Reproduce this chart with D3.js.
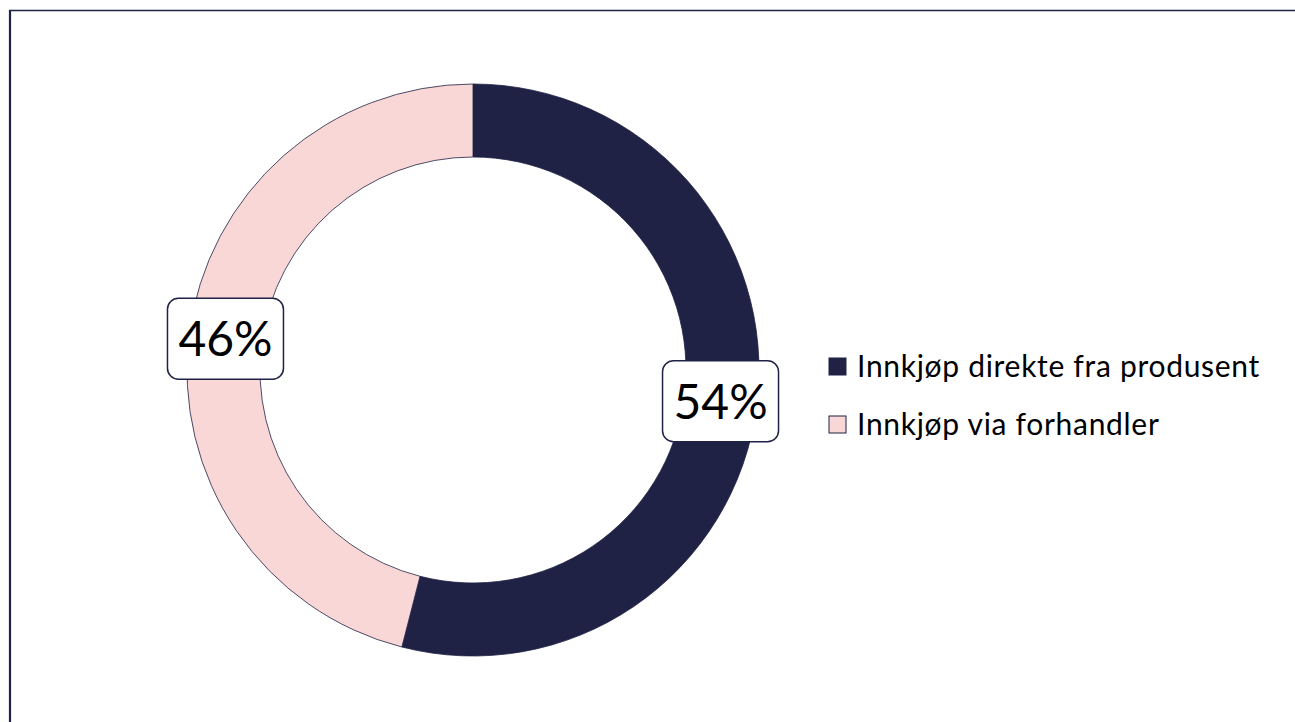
<html>
  <head>
    <meta charset="utf-8">
    <script src="https://d3js.org/d3.v7.min.js"></script>
    <style>
      body { margin: 0; background: #fff; }
      text { font-family: "Lato", "Noto Sans", sans-serif; fill: #000; }
    </style>
  </head>
  <body>
    <svg id="chart" width="1295" height="722"></svg>
    <script>
      // data
      const categories = ["Innkjøp direkte fra produsent", "Innkjøp via forhandler"];
      const shares = [54, 46];
      const colors = ["#1f2244", "#f8d7d6"];

      const svg = d3.select("svg#chart");

      // frame (top + left lines)
      svg.append("line").attr("x1", 9).attr("x2", 1295).attr("y1", 10.5).attr("y2", 10.5)
        .attr("stroke", "#1f2244").attr("stroke-width", 1.5);
      svg.append("line").attr("x1", 10).attr("x2", 10).attr("y1", 10).attr("y2", 722)
        .attr("stroke", "#1f2244").attr("stroke-width", 2.2);

      const cx = 473, cy = 370;
      const outerR = 286, innerR = 213;

      const pie = d3.pie().sort(null).value(d => d);
      const arcs = pie(shares);
      const arc = d3.arc().innerRadius(innerR).outerRadius(outerR);

      const g = svg.append("g").attr("transform", `translate(${cx},${cy})`);

      g.selectAll("path.slice")
        .data(arcs)
        .join("path")
        .attr("class", "slice")
        .attr("d", arc)
        .attr("fill", (d, i) => colors[i])
        .attr("stroke", "#1f2244")
        .attr("stroke-width", 0.8);

      // value labels in rounded boxes
      const labels = g.selectAll("g.lbl")
        .data(arcs)
        .join("g")
        .attr("class", "lbl")
        .attr("transform", d => `translate(${arc.centroid(d)})`);

      labels.append("rect")
        .attr("x", -58).attr("y", -40.5)
        .attr("width", 116).attr("height", 81)
        .attr("rx", 11)
        .attr("fill", "#fff")
        .attr("stroke", "#1f2244")
        .attr("stroke-width", 1.5);

      labels.append("text")
        .attr("text-anchor", "middle")
        .attr("dy", "0.36em")
        .style("font-size", "48px")
        .text(d => d.data + "%");

      // legend
      const legend = svg.append("g").attr("transform", "translate(829,358)");
      const item = legend.selectAll("g")
        .data(categories)
        .join("g")
        .attr("transform", (d, i) => `translate(0,${i * 58})`);

      item.append("rect")
        .attr("width", 17).attr("height", 17)
        .attr("fill", (d, i) => colors[i])
        .attr("stroke", "#1f2244")
        .attr("stroke-width", 1);

      item.append("text")
        .attr("x", 28)
        .attr("y", 8.5)
        .attr("dy", "0.36em")
        .style("font-size", "30px")
        .style("letter-spacing", "0.7px")
        .text(d => d);
    </script>
  </body>
</html>
